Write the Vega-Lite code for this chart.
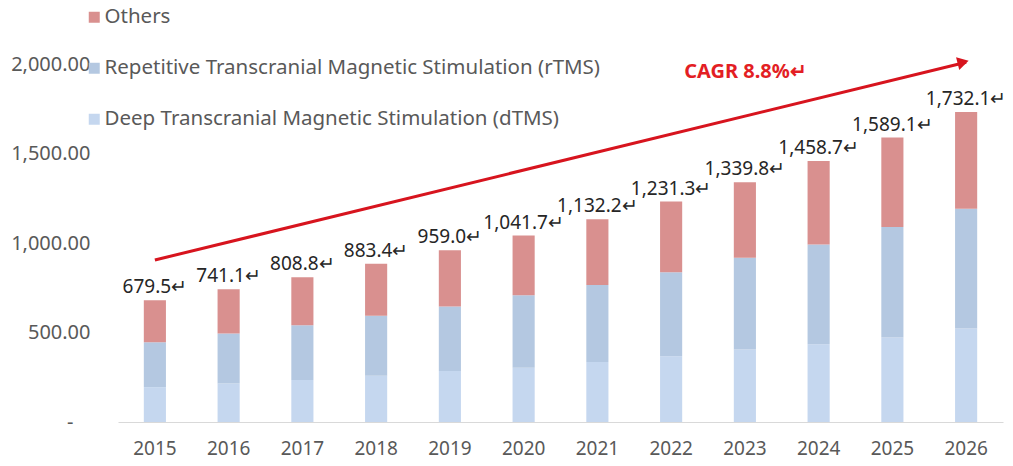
{
  "$schema": "https://vega.github.io/schema/vega-lite/v6.json",
  "width": 885,
  "height": 358,
  "autosize": {"type": "none"},
  "padding": {"left": 118, "top": 64, "right": 10, "bottom": 44},
  "background": "white",
  "config": {
    "view": {"stroke": null},
    "font": "Noto Sans",
    "axis": {"labelFont": "Noto Sans", "labelColor": "#595959", "labelFontSize": 20}
  },
  "datasets": {
    "segments": [
      {"year": "2015", "segment": "Deep Transcranial Magnetic Stimulation (dTMS)", "value": 195},
      {"year": "2015", "segment": "Repetitive Transcranial Magnetic Stimulation (rTMS)", "value": 250},
      {"year": "2015", "segment": "Others", "value": 234.5},
      {"year": "2016", "segment": "Deep Transcranial Magnetic Stimulation (dTMS)", "value": 215},
      {"year": "2016", "segment": "Repetitive Transcranial Magnetic Stimulation (rTMS)", "value": 280},
      {"year": "2016", "segment": "Others", "value": 246.1},
      {"year": "2017", "segment": "Deep Transcranial Magnetic Stimulation (dTMS)", "value": 235},
      {"year": "2017", "segment": "Repetitive Transcranial Magnetic Stimulation (rTMS)", "value": 305},
      {"year": "2017", "segment": "Others", "value": 268.8},
      {"year": "2018", "segment": "Deep Transcranial Magnetic Stimulation (dTMS)", "value": 258},
      {"year": "2018", "segment": "Repetitive Transcranial Magnetic Stimulation (rTMS)", "value": 335},
      {"year": "2018", "segment": "Others", "value": 290.4},
      {"year": "2019", "segment": "Deep Transcranial Magnetic Stimulation (dTMS)", "value": 285},
      {"year": "2019", "segment": "Repetitive Transcranial Magnetic Stimulation (rTMS)", "value": 360},
      {"year": "2019", "segment": "Others", "value": 314.0},
      {"year": "2020", "segment": "Deep Transcranial Magnetic Stimulation (dTMS)", "value": 303},
      {"year": "2020", "segment": "Repetitive Transcranial Magnetic Stimulation (rTMS)", "value": 405},
      {"year": "2020", "segment": "Others", "value": 333.7},
      {"year": "2021", "segment": "Deep Transcranial Magnetic Stimulation (dTMS)", "value": 335},
      {"year": "2021", "segment": "Repetitive Transcranial Magnetic Stimulation (rTMS)", "value": 430},
      {"year": "2021", "segment": "Others", "value": 367.2},
      {"year": "2022", "segment": "Deep Transcranial Magnetic Stimulation (dTMS)", "value": 368},
      {"year": "2022", "segment": "Repetitive Transcranial Magnetic Stimulation (rTMS)", "value": 468},
      {"year": "2022", "segment": "Others", "value": 395.3},
      {"year": "2023", "segment": "Deep Transcranial Magnetic Stimulation (dTMS)", "value": 405},
      {"year": "2023", "segment": "Repetitive Transcranial Magnetic Stimulation (rTMS)", "value": 512},
      {"year": "2023", "segment": "Others", "value": 422.8},
      {"year": "2024", "segment": "Deep Transcranial Magnetic Stimulation (dTMS)", "value": 435},
      {"year": "2024", "segment": "Repetitive Transcranial Magnetic Stimulation (rTMS)", "value": 557},
      {"year": "2024", "segment": "Others", "value": 466.7},
      {"year": "2025", "segment": "Deep Transcranial Magnetic Stimulation (dTMS)", "value": 472},
      {"year": "2025", "segment": "Repetitive Transcranial Magnetic Stimulation (rTMS)", "value": 618},
      {"year": "2025", "segment": "Others", "value": 499.1},
      {"year": "2026", "segment": "Deep Transcranial Magnetic Stimulation (dTMS)", "value": 522},
      {"year": "2026", "segment": "Repetitive Transcranial Magnetic Stimulation (rTMS)", "value": 670},
      {"year": "2026", "segment": "Others", "value": 540.1}
    ],
    "arrow": [
      {"year": "2015", "v": 905},
      {"year": "2026", "v": 2010}
    ],
    "arrowhead": [
      {"year": "2026", "v": 2010}
    ],
    "cagr": [
      {"year": "2022", "v": 1957, "label": "CAGR 8.8%↵"}
    ]
  },
  "layer": [
    {
      "data": {"name": "segments"},
      "transform": [
        {"calculate": "indexof(['Deep Transcranial Magnetic Stimulation (dTMS)','Repetitive Transcranial Magnetic Stimulation (rTMS)','Others'], datum.segment)", "as": "rank"}
      ],
      "mark": {"type": "bar"},
      "encoding": {
        "x": {
          "field": "year", "type": "nominal",
          "scale": {"paddingInner": 0.7, "paddingOuter": 0.35},
          "axis": {"title": null, "labelAngle": 0, "ticks": false, "domainColor": "#D9D9D9", "domainWidth": 1, "labelPadding": 17, "labelFontSize": 19}
        },
        "y": {
          "aggregate": "sum", "field": "value", "type": "quantitative",
          "scale": {"domain": [0, 2000], "nice": false},
          "axis": {"title": null, "grid": false, "domain": false, "ticks": false,
                   "labelPadding": {"condition": {"test": "datum.value === 0", "value": 45}, "value": 28},
                   "values": [0, 500, 1000, 1500, 2000],
                   "labelExpr": "datum.value == 0 ? '-' : format(datum.value, ',.2f')"}
        },
        "color": {
          "field": "segment", "type": "nominal",
          "scale": {
            "domain": ["Others", "Repetitive Transcranial Magnetic Stimulation (rTMS)", "Deep Transcranial Magnetic Stimulation (dTMS)"],
            "range": ["#D9908F", "#B4C8E1", "#C5D7EF"]
          },
          "legend": {
            "title": null, "orient": "none", "legendX": -34, "legendY": -57,
            "symbolType": "square", "symbolSize": 121, "symbolStrokeWidth": 0,
            "labelFontSize": 20.5, "labelColor": "#595959", "labelFont": "Noto Sans",
            "labelOffset": 0, "rowPadding": 30, "labelLimit": 700
          }
        },
        "order": {"field": "rank", "type": "quantitative"}
      }
    },
    {
      "data": {"name": "segments"},
      "transform": [
        {"aggregate": [{"op": "sum", "field": "value", "as": "total"}], "groupby": ["year"]},
        {"calculate": "format(datum.total, ',.1f') + '↵'", "as": "label"}
      ],
      "mark": {"type": "text", "dy": -13, "fontSize": 19, "color": "#262626", "baseline": "middle", "align": "center"},
      "encoding": {
        "x": {"field": "year", "type": "nominal"},
        "y": {"field": "total", "type": "quantitative"},
        "text": {"field": "label"}
      }
    },
    {
      "data": {"name": "arrow"},
      "mark": {"type": "line", "color": "#D7141E", "strokeWidth": 3},
      "encoding": {
        "x": {"field": "year", "type": "nominal"},
        "y": {"field": "v", "type": "quantitative"}
      }
    },
    {
      "data": {"name": "arrowhead"},
      "mark": {"type": "point", "shape": "triangle-right", "filled": true, "opacity": 1, "color": "#D7141E", "size": 170, "angle": 346, "xOffset": -3},
      "encoding": {
        "x": {"field": "year", "type": "nominal"},
        "y": {"field": "v", "type": "quantitative"}
      }
    },
    {
      "data": {"name": "cagr"},
      "mark": {"type": "text", "align": "left", "baseline": "middle", "xOffset": 13, "fontSize": 20, "fontWeight": "bold", "color": "#E31E24"},
      "encoding": {
        "x": {"field": "year", "type": "nominal"},
        "y": {"field": "v", "type": "quantitative"},
        "text": {"field": "label"}
      }
    }
  ]
}
